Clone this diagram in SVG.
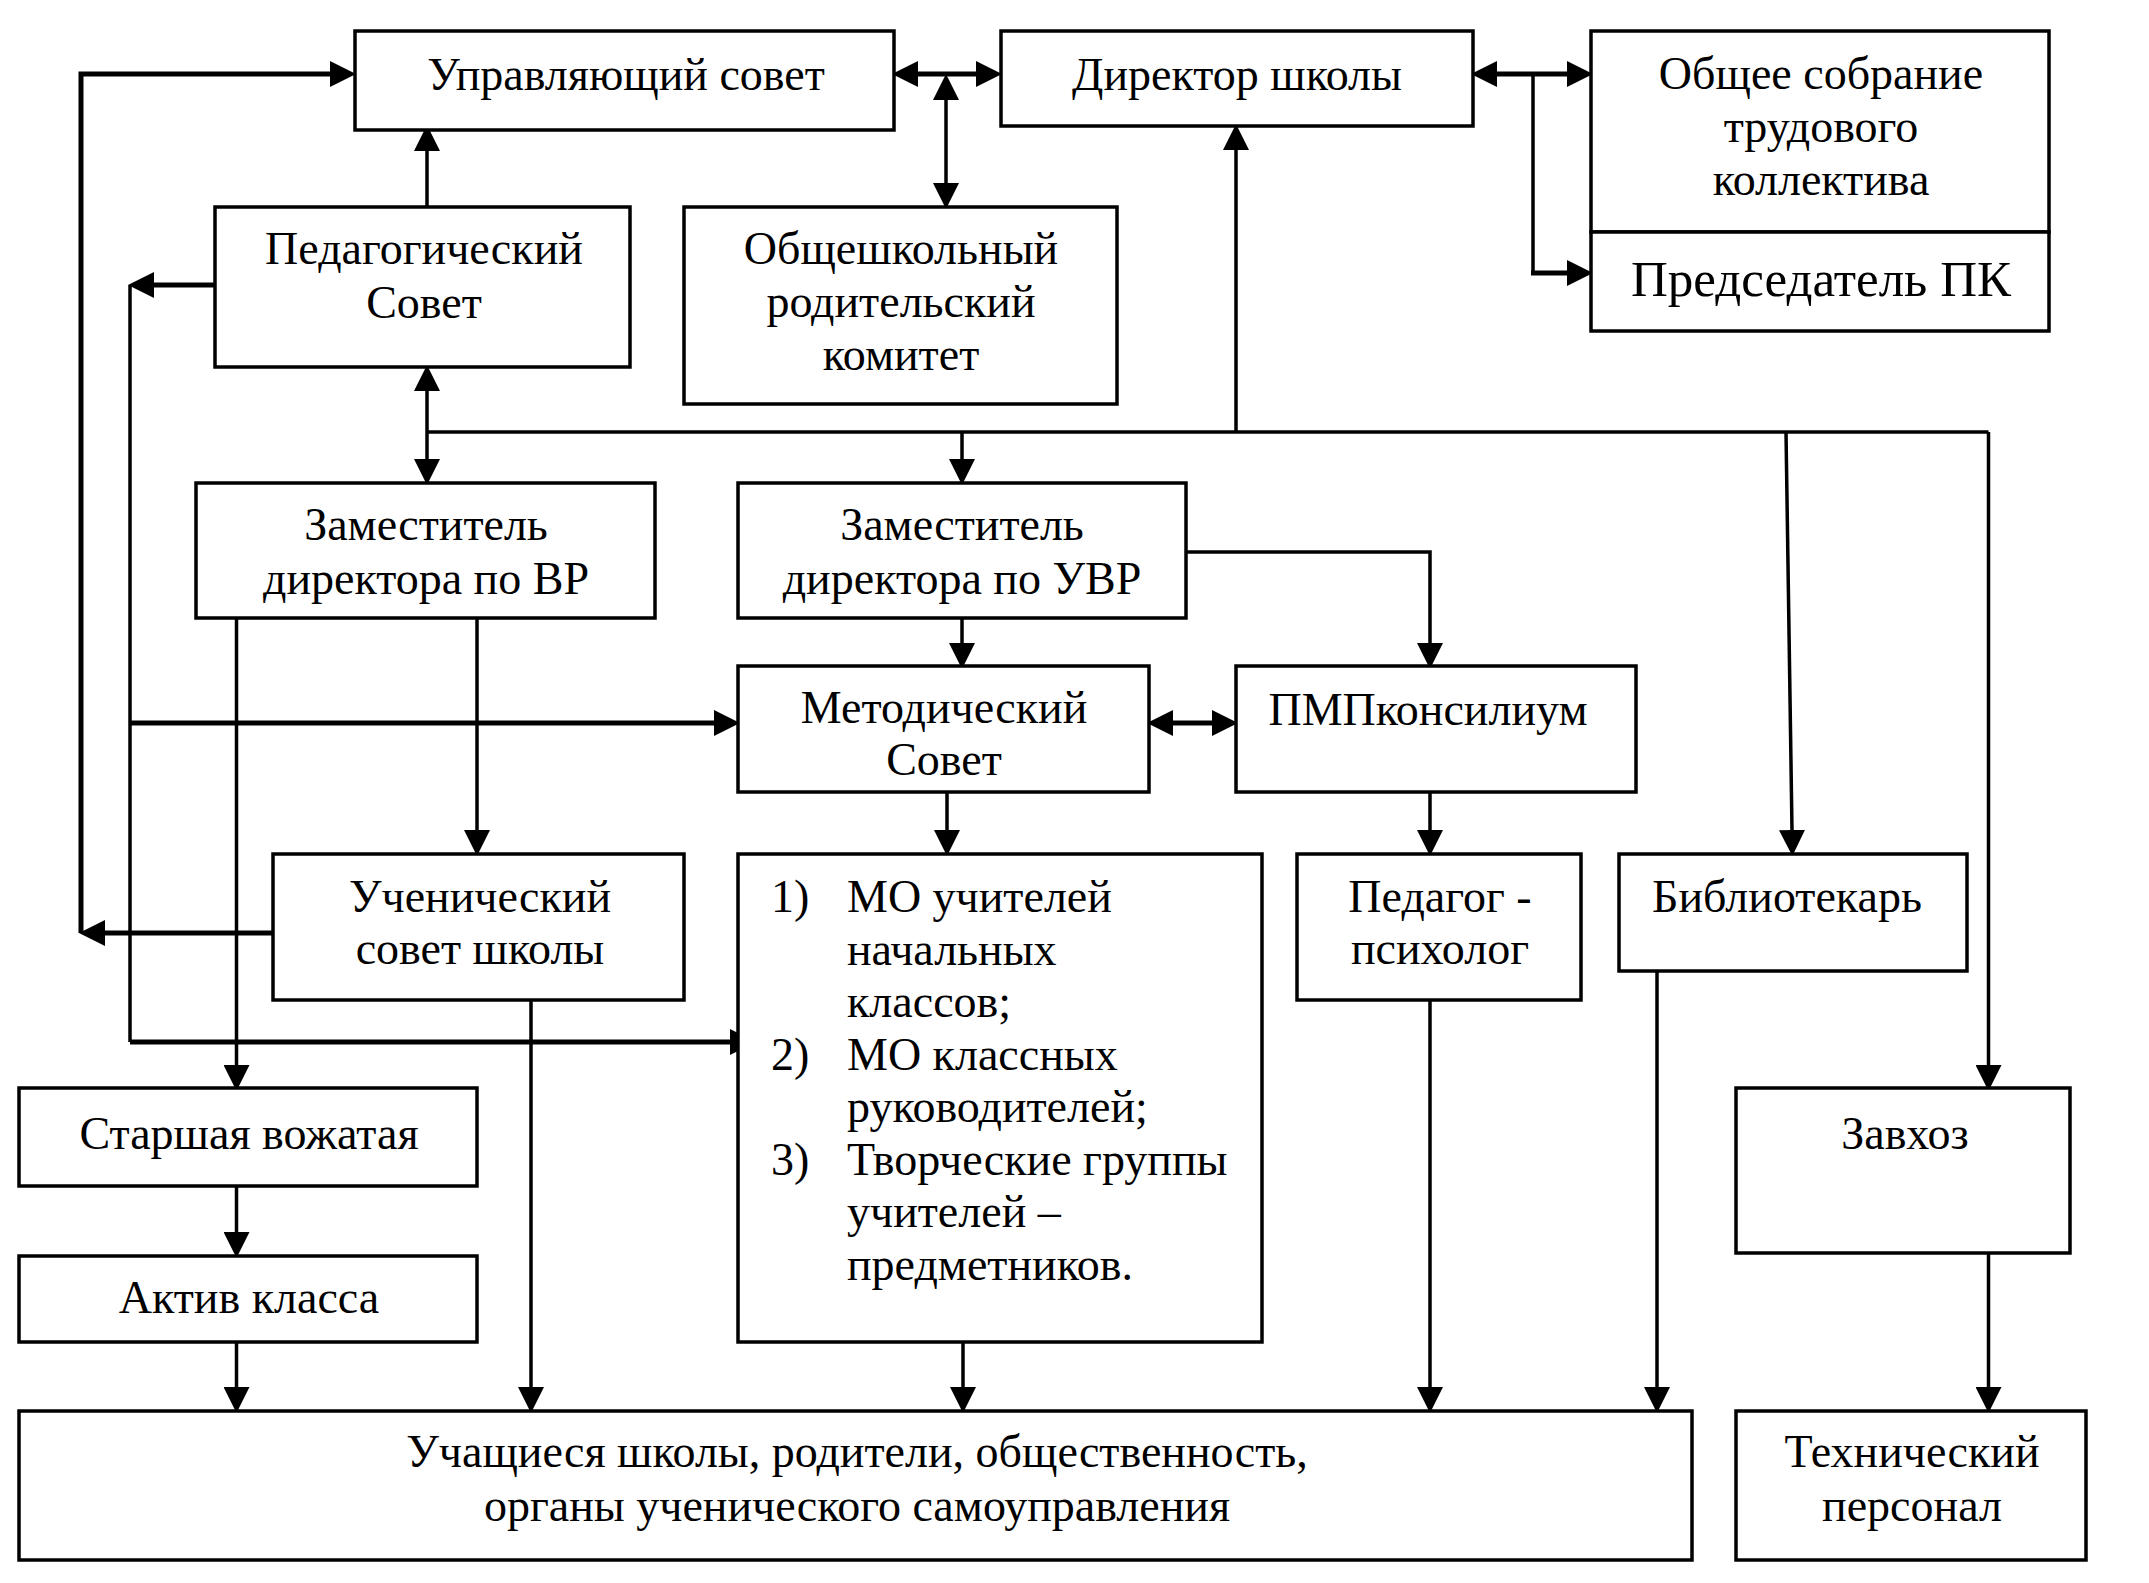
<svg xmlns="http://www.w3.org/2000/svg" width="2149" height="1583" viewBox="0 0 2149 1583">
<style>
.box{fill:#fff;stroke:#000;stroke-width:3.5}
.t{font-family:"Liberation Serif","Times New Roman",serif;font-size:46px;fill:#000;text-anchor:middle}
.s{text-anchor:start}
.big{font-size:51px}
.c{fill:none;stroke:#000;stroke-width:3.5}
.k{fill:none;stroke:#000;stroke-width:5}
.a{marker-end:url(#ah)}
.b{marker-start:url(#ah);marker-end:url(#ah)}
</style>
<defs>
<marker id="ah" markerUnits="userSpaceOnUse" markerWidth="26" markerHeight="26" refX="0" refY="12" orient="auto-start-reverse" viewBox="0 0 24 24">
<path d="M0,0 L24,12 L0,24 z" fill="#000"/>
</marker>
</defs>
<rect width="2149" height="1583" fill="#fff"/>
<g id="connectors">
<polyline class="k a" points="81,933 81,74 330,74"/>
<line class="k a" x1="273" y1="933" x2="105" y2="933"/>
<line class="k a" x1="215" y1="285" x2="154" y2="285"/>
<line class="c" x1="130" y1="285" x2="130" y2="1042"/>
<line class="k a" x1="130" y1="723" x2="714" y2="723"/>
<line class="k a" x1="130" y1="1042" x2="730" y2="1042"/>
<line class="c a" x1="427" y1="207" x2="427" y2="151"/>
<line class="c" x1="427" y1="432" x2="1988.5" y2="432"/>
<line class="c b" x1="427" y1="391" x2="427" y2="459"/>
<line class="c a" x1="962" y1="432" x2="962" y2="459"/>
<line class="c a" x1="1236" y1="432" x2="1236" y2="150"/>
<line class="c a" x1="1786" y1="432" x2="1792" y2="830"/>
<line class="c a" x1="1988.5" y1="432" x2="1988.5" y2="1065"/>
<line class="k b" x1="918" y1="74" x2="976" y2="74"/>
<line class="c b" x1="946" y1="100" x2="946" y2="183"/>
<line class="k b" x1="1497" y1="74" x2="1567" y2="74"/>
<polyline class="c" points="1533,74 1533,273"/>
<line class="k a" x1="1531" y1="273" x2="1567" y2="273"/>
<line class="c a" x1="236.5" y1="618" x2="236.5" y2="1065"/>
<line class="c a" x1="477" y1="618" x2="477" y2="830"/>
<line class="c a" x1="962" y1="618" x2="962" y2="643"/>
<polyline class="c a" points="1186,552 1430,552 1430,643"/>
<line class="k b" x1="1173" y1="723" x2="1212" y2="723"/>
<line class="c a" x1="947" y1="792" x2="947" y2="830"/>
<line class="c a" x1="1430" y1="792" x2="1430" y2="830"/>
<line class="c a" x1="236.5" y1="1186" x2="236.5" y2="1232"/>
<line class="c a" x1="236.5" y1="1342" x2="236.5" y2="1387"/>
<line class="c a" x1="531" y1="1000" x2="531" y2="1387"/>
<line class="c a" x1="963" y1="1342" x2="963" y2="1387"/>
<line class="c a" x1="1430" y1="1000" x2="1430" y2="1387"/>
<line class="c a" x1="1657" y1="971" x2="1657" y2="1387"/>
<line class="c a" x1="1988.5" y1="1253" x2="1988.5" y2="1387"/>
</g>
<g id="upr"><rect class="box" x="355" y="31" width="539" height="99"/><text class="t" x="626" y="90">Управляющий совет</text></g>
<g id="dir"><rect class="box" x="1001" y="31" width="472" height="95"/><text class="t" x="1237" y="90">Директор школы</text></g>
<g id="obshee"><rect class="box" x="1591" y="31" width="458" height="201"/><text class="t" x="1821" y="89">Общее собрание</text><text class="t" x="1821" y="142">трудового</text><text class="t" x="1821" y="195">коллектива</text></g>
<g id="pred"><rect class="box" x="1591" y="232" width="458" height="99"/><text class="t big" x="1821" y="296">Председатель ПК</text></g>
<g id="ped"><rect class="box" x="215" y="207" width="415" height="160"/><text class="t" x="424" y="264">Педагогический</text><text class="t" x="424" y="318">Совет</text></g>
<g id="rod"><rect class="box" x="684" y="207" width="433" height="197"/><text class="t" x="901" y="264">Общешкольный</text><text class="t" x="901" y="317">родительский</text><text class="t" x="901" y="370">комитет</text></g>
<g id="zamvr"><rect class="box" x="196" y="483" width="459" height="135"/><text class="t" x="426" y="540">Заместитель</text><text class="t" x="426" y="594">директора по ВР</text></g>
<g id="zamuvr"><rect class="box" x="738" y="483" width="448" height="135"/><text class="t" x="962" y="540">Заместитель</text><text class="t" x="962" y="594">директора по УВР</text></g>
<g id="metod"><rect class="box" x="738" y="666" width="411" height="126"/><text class="t" x="944" y="723">Методический</text><text class="t" x="944" y="775">Совет</text></g>
<g id="pmp"><rect class="box" x="1236" y="666" width="400" height="126"/><text class="t" x="1428" y="725">ПМПконсилиум</text></g>
<g id="uch"><rect class="box" x="273" y="854" width="411" height="146"/><text class="t" x="480" y="912">Ученический</text><text class="t" x="480" y="964">совет школы</text></g>
<g id="mo"><rect class="box" x="738" y="854" width="524" height="488"/>
<text class="t s" x="771" y="912">1)</text><text class="t s" x="847" y="912">МО учителей</text>
<text class="t s" x="847" y="965">начальных</text>
<text class="t s" x="847" y="1017">классов;</text>
<text class="t s" x="771" y="1070">2)</text><text class="t s" x="847" y="1070">МО классных</text>
<text class="t s" x="847" y="1122">руководителей;</text>
<text class="t s" x="771" y="1175">3)</text><text class="t s" x="847" y="1175">Творческие группы</text>
<text class="t s" x="847" y="1227">учителей –</text>
<text class="t s" x="847" y="1280">предметников.</text></g>
<g id="psych"><rect class="box" x="1297" y="854" width="284" height="146"/><text class="t" x="1440" y="912">Педагог -</text><text class="t" x="1440" y="964">психолог</text></g>
<g id="bibl"><rect class="box" x="1619" y="854" width="348" height="117"/><text class="t" x="1787" y="912">Библиотекарь</text></g>
<g id="vozh"><rect class="box" x="19" y="1088" width="458" height="98"/><text class="t" x="249" y="1149">Старшая вожатая</text></g>
<g id="aktiv"><rect class="box" x="19" y="1256" width="458" height="86"/><text class="t" x="249" y="1313">Актив класса</text></g>
<g id="zavhoz"><rect class="box" x="1736" y="1088" width="334" height="165"/><text class="t" x="1905" y="1149">Завхоз</text></g>
<g id="uchash"><rect class="box" x="19" y="1411" width="1673" height="149"/><text class="t" x="857" y="1467">Учащиеся школы, родители, общественность,</text><text class="t" x="857" y="1521">органы ученического самоуправления</text></g>
<g id="tech"><rect class="box" x="1736" y="1411" width="350" height="149"/><text class="t" x="1912" y="1467">Технический</text><text class="t" x="1912" y="1521">персонал</text></g>
</svg>
